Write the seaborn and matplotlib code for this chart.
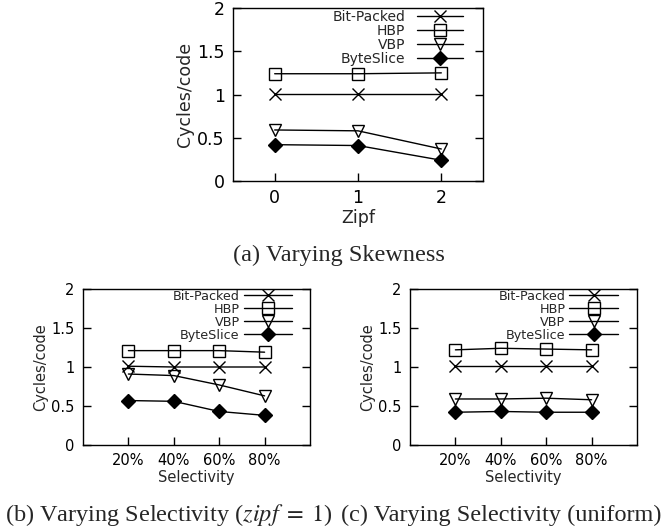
import pandas as pd
import matplotlib.pyplot as plt
import seaborn as sns

sns.set_style("white")
plt.rcParams['font.family'] = ['DejaVu Sans']
plt.rcParams['mathtext.fontset'] = 'stix'

# Data
series = ['Bit-Packed', 'HBP', 'VBP', 'ByteSlice']

zipf_labels = ['0', '1', '2']
zipf_bitpacked = [1.01, 1.01, 1.01]
zipf_hbp = [1.24, 1.24, 1.25]
zipf_vbp = [0.59, 0.58, 0.37]
zipf_byteslice = [0.42, 0.41, 0.24]

sel_labels = ['20%', '40%', '60%', '80%']
sel1_bitpacked = [1.01, 1.00, 1.00, 1.00]
sel1_hbp = [1.21, 1.21, 1.21, 1.19]
sel1_vbp = [0.91, 0.89, 0.77, 0.63]
sel1_byteslice = [0.57, 0.56, 0.43, 0.38]

uni_bitpacked = [1.01, 1.01, 1.01, 1.01]
uni_hbp = [1.22, 1.24, 1.23, 1.22]
uni_vbp = [0.59, 0.59, 0.60, 0.58]
uni_byteslice = [0.42, 0.43, 0.42, 0.42]

styles = {
    'Bit-Packed': dict(marker='x', mfc='none', ms=9),
    'HBP': dict(marker='s', mfc='none', ms=8.5),
    'VBP': dict(marker='v', mfc='none', ms=9),
    'ByteSlice': dict(marker='D', mfc='black', ms=6.8),
}


def panel(ax, labels, values, xlabel, xlim, fs, leg_fs, hl, hp, anchor):
    pos = list(range(len(labels)))
    for name, vals in zip(series, values):
        df = pd.DataFrame({'x': pos, 'y': vals})
        st = styles[name]
        sns.lineplot(data=df, x='x', y='y', ax=ax, color='black', lw=1.0,
                     marker=st['marker'], markersize=st['ms'], markerfacecolor=st['mfc'],
                     markeredgecolor='black', markeredgewidth=1.0, label=name)
    ax.set_xlim(*xlim)
    ax.set_ylim(0, 2)
    ax.set_xticks(pos)
    ax.set_xticklabels(labels)
    ax.set_yticks([0, 0.5, 1, 1.5, 2])
    ax.set_yticklabels(['0', '0.5', '1', '1.5', '2'])
    ax.tick_params(axis='both', direction='in', length=6, width=1, labelsize=fs,
                   colors='black', pad=6)
    ax.tick_params(axis='y', right=True, left=True)
    ax.tick_params(axis='x', bottom=True, top=False)
    ax.set_xlabel(xlabel, fontsize=fs, labelpad=1)
    ax.set_ylabel('Cycles/code', fontsize=fs, labelpad=2)
    for sp in ax.spines.values():
        sp.set_color('black')
        sp.set_linewidth(1.0)
    ax.legend(loc='upper right', bbox_to_anchor=anchor, markerfirst=False,
              frameon=False, fontsize=leg_fs, handlelength=hl, labelspacing=0.0,
              handletextpad=hp, borderaxespad=0, borderpad=0, numpoints=1)


fig = plt.figure(figsize=(6.7, 5.27), dpi=100)

ax_a = fig.add_axes([233 / 670, 1 - 181 / 527, 250 / 670, 173 / 527])
panel(ax_a, zipf_labels, [zipf_bitpacked, zipf_hbp, zipf_vbp, zipf_byteslice],
      'Zipf', (-0.5, 2.5), 12.5, 10, 3.3, 0.85, (0.92, 0.99))

ax_b = fig.add_axes([83 / 670, 1 - 445 / 527, 227 / 670, 156 / 527])
panel(ax_b, sel_labels, [sel1_bitpacked, sel1_hbp, sel1_vbp, sel1_byteslice],
      'Selectivity', (-1, 4), 10.5, 9.2, 3.8, 0.3, (0.921, 0.994))

ax_c = fig.add_axes([410 / 670, 1 - 445 / 527, 227 / 670, 156 / 527])
panel(ax_c, sel_labels, [uni_bitpacked, uni_hbp, uni_vbp, uni_byteslice],
      'Selectivity', (-1, 4), 10.5, 9.2, 3.8, 0.3, (0.916, 0.994))

cap = dict(fontsize=17.5, family='Liberation Serif', ha='center', va='baseline')
fig.text(339 / 670, 1 - 261 / 527, '(a) Varying Skewness', **cap)
fig.text(169 / 670, 1 - 521 / 527, '(b) Varying Selectivity ($zipf\\;=\\;1$)', **cap)
fig.text(501 / 670, 1 - 521 / 527, '(c) Varying Selectivity (uniform)', **cap)

fig.savefig('out.png', dpi=100)
